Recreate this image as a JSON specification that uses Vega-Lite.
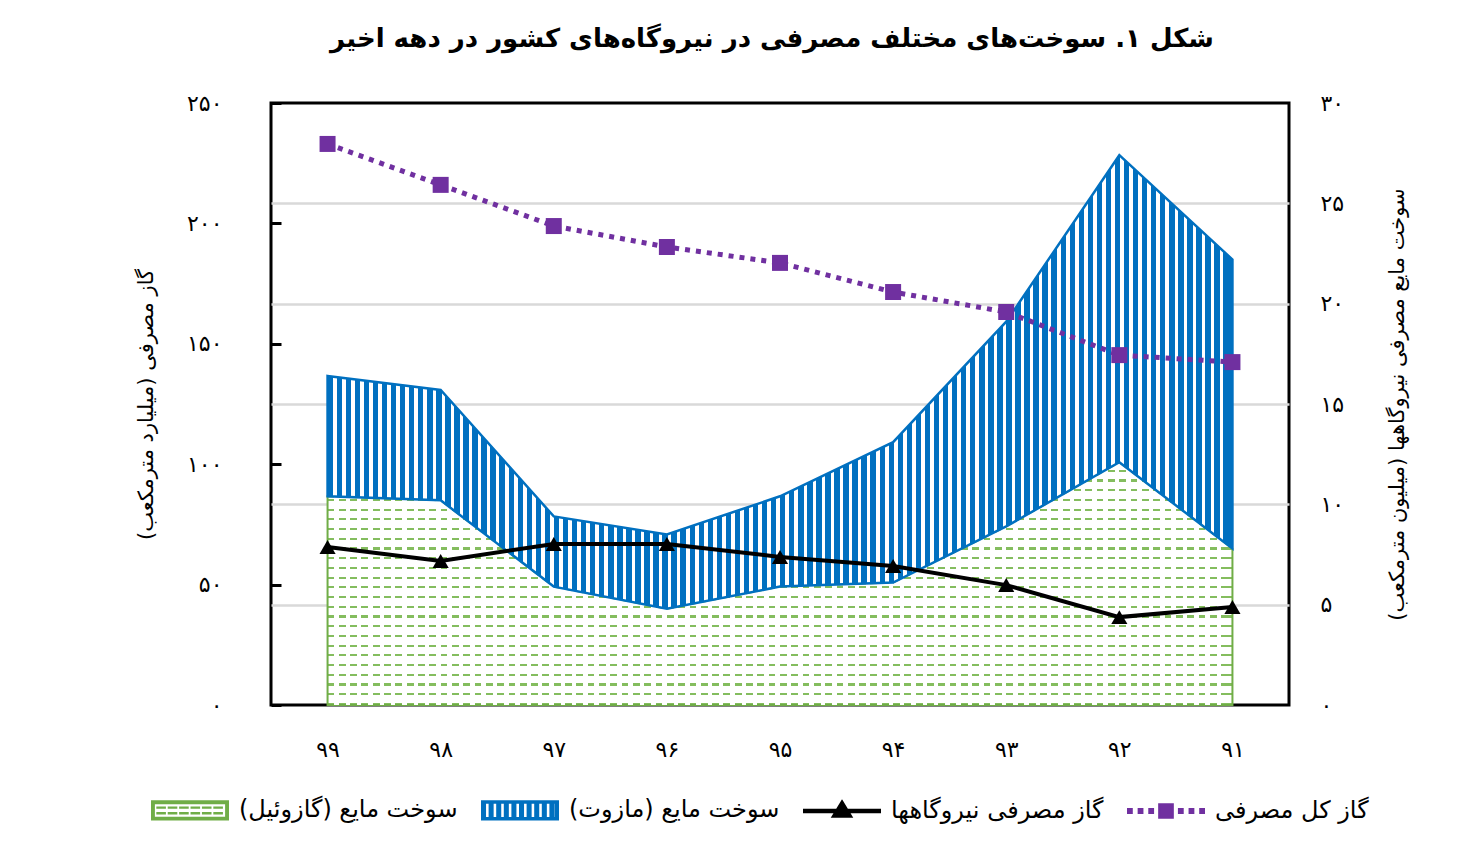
{
"$schema": "https://vega.github.io/schema/vega-lite/v6.json",
"width": 1018, "height": 602,
"autosize": {"type": "none"},
"padding": {"left": 271, "top": 103, "right": 174, "bottom": 163},
"background": "white",
"title": {"text": "‏شکل ۱. سوخت‌های مختلف مصرفی در نیروگاه‌های کشور در دهه اخیر‏", "font": "DejaVu Sans", "fontSize": 26, "fontWeight": "bold", "color": "black", "anchor": "middle", "offset": 40, "dx": -8},
"data": {"values": [
{"year":"۹۹","total_gas":233,"pp_gas":65.6,"gazoil":10.4,"mazut":6.0},
{"year":"۹۸","total_gas":216,"pp_gas":59.8,"gazoil":10.2,"mazut":5.5},
{"year":"۹۷","total_gas":198.9,"pp_gas":66.9,"gazoil":5.9,"mazut":3.5},
{"year":"۹۶","total_gas":190.2,"pp_gas":66.9,"gazoil":4.8,"mazut":3.7},
{"year":"۹۵","total_gas":183.6,"pp_gas":61.5,"gazoil":5.9,"mazut":4.5},
{"year":"۹۴","total_gas":171.5,"pp_gas":57.7,"gazoil":6.1,"mazut":7.0},
{"year":"۹۳","total_gas":163.2,"pp_gas":49.8,"gazoil":8.9,"mazut":10.2},
{"year":"۹۲","total_gas":145.3,"pp_gas":36.5,"gazoil":12.1,"mazut":15.3},
{"year":"۹۱","total_gas":142.4,"pp_gas":40.7,"gazoil":7.8,"mazut":14.4}
]},
"encoding": {"x": {"field": "year", "type": "ordinal", "sort": ["۹۹","۹۸","۹۷","۹۶","۹۵","۹۴","۹۳","۹۲","۹۱"], "scale": {"type": "point", "padding": 0.5}, "axis": {"title": null, "labelAngle": 0, "ticks": false, "domain": false, "grid": false, "labelPadding": 34, "labelFontSize": 22, "labelFont": "DejaVu Sans", "labelColor": "black"}}},
"layer": [
{"layer": [
{"mark": {"type": "area", "strokeWidth": 2, "fill": {"gradient": "linear", "x1": 0, "y1": 0, "x2": 0, "y2": 1, "stops": [
{"offset":0,"color":"#fff"},{"offset":0.031,"color":"#fff"},{"offset":0.031,"color":"#84bd5e"},{"offset":0.04,"color":"#84bd5e"},
{"offset":0.04,"color":"#fff"},{"offset":0.071,"color":"#fff"},{"offset":0.071,"color":"#84bd5e"},{"offset":0.08,"color":"#84bd5e"},
{"offset":0.08,"color":"#fff"},{"offset":0.111,"color":"#fff"},{"offset":0.111,"color":"#84bd5e"},{"offset":0.12,"color":"#84bd5e"},
{"offset":0.12,"color":"#fff"},{"offset":0.151,"color":"#fff"},{"offset":0.151,"color":"#84bd5e"},{"offset":0.16,"color":"#84bd5e"},
{"offset":0.16,"color":"#fff"},{"offset":0.191,"color":"#fff"},{"offset":0.191,"color":"#84bd5e"},{"offset":0.2,"color":"#84bd5e"},
{"offset":0.2,"color":"#fff"},{"offset":0.231,"color":"#fff"},{"offset":0.231,"color":"#84bd5e"},{"offset":0.24,"color":"#84bd5e"},
{"offset":0.24,"color":"#fff"},{"offset":0.271,"color":"#fff"},{"offset":0.271,"color":"#84bd5e"},{"offset":0.28,"color":"#84bd5e"},
{"offset":0.28,"color":"#fff"},{"offset":0.311,"color":"#fff"},{"offset":0.311,"color":"#84bd5e"},{"offset":0.32,"color":"#84bd5e"},
{"offset":0.32,"color":"#fff"},{"offset":0.351,"color":"#fff"},{"offset":0.351,"color":"#84bd5e"},{"offset":0.36,"color":"#84bd5e"},
{"offset":0.36,"color":"#fff"},{"offset":0.391,"color":"#fff"},{"offset":0.391,"color":"#84bd5e"},{"offset":0.4,"color":"#84bd5e"},
{"offset":0.4,"color":"#fff"},{"offset":0.431,"color":"#fff"},{"offset":0.431,"color":"#84bd5e"},{"offset":0.44,"color":"#84bd5e"},
{"offset":0.44,"color":"#fff"},{"offset":0.471,"color":"#fff"},{"offset":0.471,"color":"#84bd5e"},{"offset":0.48,"color":"#84bd5e"},
{"offset":0.48,"color":"#fff"},{"offset":0.511,"color":"#fff"},{"offset":0.511,"color":"#84bd5e"},{"offset":0.52,"color":"#84bd5e"},
{"offset":0.52,"color":"#fff"},{"offset":0.551,"color":"#fff"},{"offset":0.551,"color":"#84bd5e"},{"offset":0.56,"color":"#84bd5e"},
{"offset":0.56,"color":"#fff"},{"offset":0.591,"color":"#fff"},{"offset":0.591,"color":"#84bd5e"},{"offset":0.6,"color":"#84bd5e"},
{"offset":0.6,"color":"#fff"},{"offset":0.631,"color":"#fff"},{"offset":0.631,"color":"#84bd5e"},{"offset":0.64,"color":"#84bd5e"},
{"offset":0.64,"color":"#fff"},{"offset":0.671,"color":"#fff"},{"offset":0.671,"color":"#84bd5e"},{"offset":0.68,"color":"#84bd5e"},
{"offset":0.68,"color":"#fff"},{"offset":0.711,"color":"#fff"},{"offset":0.711,"color":"#84bd5e"},{"offset":0.72,"color":"#84bd5e"},
{"offset":0.72,"color":"#fff"},{"offset":0.751,"color":"#fff"},{"offset":0.751,"color":"#84bd5e"},{"offset":0.76,"color":"#84bd5e"},
{"offset":0.76,"color":"#fff"},{"offset":0.791,"color":"#fff"},{"offset":0.791,"color":"#84bd5e"},{"offset":0.8,"color":"#84bd5e"},
{"offset":0.8,"color":"#fff"},{"offset":0.831,"color":"#fff"},{"offset":0.831,"color":"#84bd5e"},{"offset":0.84,"color":"#84bd5e"},
{"offset":0.84,"color":"#fff"},{"offset":0.871,"color":"#fff"},{"offset":0.871,"color":"#84bd5e"},{"offset":0.88,"color":"#84bd5e"},
{"offset":0.88,"color":"#fff"},{"offset":0.911,"color":"#fff"},{"offset":0.911,"color":"#84bd5e"},{"offset":0.92,"color":"#84bd5e"},
{"offset":0.92,"color":"#fff"},{"offset":0.951,"color":"#fff"},{"offset":0.951,"color":"#84bd5e"},{"offset":0.96,"color":"#84bd5e"},
{"offset":0.96,"color":"#fff"},{"offset":0.991,"color":"#fff"},{"offset":0.991,"color":"#84bd5e"},{"offset":1,"color":"#84bd5e"}
]}},
"encoding": {
"y": {"field": "gazoil", "type": "quantitative", "stack": null, "scale": {"domain": [0, 30], "nice": false}, "axis": {"orient": "right", "values": [0,5,10,15,20,25,30], "grid": true, "gridOpacity": {"condition": {"test": "datum.value == 0 || datum.value == 30", "value": 0}, "value": 1}, "title": "‏سوخت مایع مصرفی نیروگاهها (میلیون مترمکعب)‏", "titleAngle": -90, "titleBaseline": "top", "labelExpr": "datum.value == 0 ? '۰' : datum.value == 5 ? '۵' : datum.value == 10 ? '۱۰' : datum.value == 15 ? '۱۵' : datum.value == 20 ? '۲۰' : datum.value == 25 ? '۲۵' : '۳۰'"}},
"stroke": {"datum": "سوخت مایع (گازوئیل)", "type": "nominal",
 "scale": {"domain": ["سوخت مایع (گازوئیل)", "سوخت مایع (مازوت)", "گاز مصرفی نیروگاهها", "گاز کل مصرفی"], "range": ["#70ad47", "#0070c0", "#000000", "#7030a0"]}}
}},
{"mark": {"type": "area", "strokeWidth": 0, "fill": {"gradient": "linear", "x1": 0, "y1": 0, "x2": 1, "y2": 0, "stops": [
{"offset":0,"color":"transparent"},{"offset":0.0075,"color":"transparent"},{"offset":0.0075,"color":"#fff"},{"offset":0.0125,"color":"#fff"},
{"offset":0.0125,"color":"transparent"},{"offset":0.02,"color":"transparent"},{"offset":0.02,"color":"#fff"},{"offset":0.025,"color":"#fff"},
{"offset":0.025,"color":"transparent"},{"offset":0.0325,"color":"transparent"},{"offset":0.0325,"color":"#fff"},{"offset":0.0375,"color":"#fff"},
{"offset":0.0375,"color":"transparent"},{"offset":0.045,"color":"transparent"},{"offset":0.045,"color":"#fff"},{"offset":0.05,"color":"#fff"},
{"offset":0.05,"color":"transparent"},{"offset":0.0575,"color":"transparent"},{"offset":0.0575,"color":"#fff"},{"offset":0.0625,"color":"#fff"},
{"offset":0.0625,"color":"transparent"},{"offset":0.07,"color":"transparent"},{"offset":0.07,"color":"#fff"},{"offset":0.075,"color":"#fff"},
{"offset":0.075,"color":"transparent"},{"offset":0.0825,"color":"transparent"},{"offset":0.0825,"color":"#fff"},{"offset":0.0875,"color":"#fff"},
{"offset":0.0875,"color":"transparent"},{"offset":0.095,"color":"transparent"},{"offset":0.095,"color":"#fff"},{"offset":0.1,"color":"#fff"},
{"offset":0.1,"color":"transparent"},{"offset":0.1075,"color":"transparent"},{"offset":0.1075,"color":"#fff"},{"offset":0.1125,"color":"#fff"},
{"offset":0.1125,"color":"transparent"},{"offset":0.12,"color":"transparent"},{"offset":0.12,"color":"#fff"},{"offset":0.125,"color":"#fff"},
{"offset":0.125,"color":"transparent"},{"offset":0.1325,"color":"transparent"},{"offset":0.1325,"color":"#fff"},{"offset":0.1375,"color":"#fff"},
{"offset":0.1375,"color":"transparent"},{"offset":0.145,"color":"transparent"},{"offset":0.145,"color":"#fff"},{"offset":0.15,"color":"#fff"},
{"offset":0.15,"color":"transparent"},{"offset":0.1575,"color":"transparent"},{"offset":0.1575,"color":"#fff"},{"offset":0.1625,"color":"#fff"},
{"offset":0.1625,"color":"transparent"},{"offset":0.17,"color":"transparent"},{"offset":0.17,"color":"#fff"},{"offset":0.175,"color":"#fff"},
{"offset":0.175,"color":"transparent"},{"offset":0.1825,"color":"transparent"},{"offset":0.1825,"color":"#fff"},{"offset":0.1875,"color":"#fff"},
{"offset":0.1875,"color":"transparent"},{"offset":0.195,"color":"transparent"},{"offset":0.195,"color":"#fff"},{"offset":0.2,"color":"#fff"},
{"offset":0.2,"color":"transparent"},{"offset":0.2075,"color":"transparent"},{"offset":0.2075,"color":"#fff"},{"offset":0.2125,"color":"#fff"},
{"offset":0.2125,"color":"transparent"},{"offset":0.22,"color":"transparent"},{"offset":0.22,"color":"#fff"},{"offset":0.225,"color":"#fff"},
{"offset":0.225,"color":"transparent"},{"offset":0.2325,"color":"transparent"},{"offset":0.2325,"color":"#fff"},{"offset":0.2375,"color":"#fff"},
{"offset":0.2375,"color":"transparent"},{"offset":0.245,"color":"transparent"},{"offset":0.245,"color":"#fff"},{"offset":0.25,"color":"#fff"},
{"offset":0.25,"color":"transparent"},{"offset":0.2575,"color":"transparent"},{"offset":0.2575,"color":"#fff"},{"offset":0.2625,"color":"#fff"},
{"offset":0.2625,"color":"transparent"},{"offset":0.27,"color":"transparent"},{"offset":0.27,"color":"#fff"},{"offset":0.275,"color":"#fff"},
{"offset":0.275,"color":"transparent"},{"offset":0.2825,"color":"transparent"},{"offset":0.2825,"color":"#fff"},{"offset":0.2875,"color":"#fff"},
{"offset":0.2875,"color":"transparent"},{"offset":0.295,"color":"transparent"},{"offset":0.295,"color":"#fff"},{"offset":0.3,"color":"#fff"},
{"offset":0.3,"color":"transparent"},{"offset":0.3075,"color":"transparent"},{"offset":0.3075,"color":"#fff"},{"offset":0.3125,"color":"#fff"},
{"offset":0.3125,"color":"transparent"},{"offset":0.32,"color":"transparent"},{"offset":0.32,"color":"#fff"},{"offset":0.325,"color":"#fff"},
{"offset":0.325,"color":"transparent"},{"offset":0.3325,"color":"transparent"},{"offset":0.3325,"color":"#fff"},{"offset":0.3375,"color":"#fff"},
{"offset":0.3375,"color":"transparent"},{"offset":0.345,"color":"transparent"},{"offset":0.345,"color":"#fff"},{"offset":0.35,"color":"#fff"},
{"offset":0.35,"color":"transparent"},{"offset":0.3575,"color":"transparent"},{"offset":0.3575,"color":"#fff"},{"offset":0.3625,"color":"#fff"},
{"offset":0.3625,"color":"transparent"},{"offset":0.37,"color":"transparent"},{"offset":0.37,"color":"#fff"},{"offset":0.375,"color":"#fff"},
{"offset":0.375,"color":"transparent"},{"offset":0.3825,"color":"transparent"},{"offset":0.3825,"color":"#fff"},{"offset":0.3875,"color":"#fff"},
{"offset":0.3875,"color":"transparent"},{"offset":0.395,"color":"transparent"},{"offset":0.395,"color":"#fff"},{"offset":0.4,"color":"#fff"},
{"offset":0.4,"color":"transparent"},{"offset":0.4075,"color":"transparent"},{"offset":0.4075,"color":"#fff"},{"offset":0.4125,"color":"#fff"},
{"offset":0.4125,"color":"transparent"},{"offset":0.42,"color":"transparent"},{"offset":0.42,"color":"#fff"},{"offset":0.425,"color":"#fff"},
{"offset":0.425,"color":"transparent"},{"offset":0.4325,"color":"transparent"},{"offset":0.4325,"color":"#fff"},{"offset":0.4375,"color":"#fff"},
{"offset":0.4375,"color":"transparent"},{"offset":0.445,"color":"transparent"},{"offset":0.445,"color":"#fff"},{"offset":0.45,"color":"#fff"},
{"offset":0.45,"color":"transparent"},{"offset":0.4575,"color":"transparent"},{"offset":0.4575,"color":"#fff"},{"offset":0.4625,"color":"#fff"},
{"offset":0.4625,"color":"transparent"},{"offset":0.47,"color":"transparent"},{"offset":0.47,"color":"#fff"},{"offset":0.475,"color":"#fff"},
{"offset":0.475,"color":"transparent"},{"offset":0.4825,"color":"transparent"},{"offset":0.4825,"color":"#fff"},{"offset":0.4875,"color":"#fff"},
{"offset":0.4875,"color":"transparent"},{"offset":0.495,"color":"transparent"},{"offset":0.495,"color":"#fff"},{"offset":0.5,"color":"#fff"},
{"offset":0.5,"color":"transparent"},{"offset":0.5075,"color":"transparent"},{"offset":0.5075,"color":"#fff"},{"offset":0.5125,"color":"#fff"},
{"offset":0.5125,"color":"transparent"},{"offset":0.52,"color":"transparent"},{"offset":0.52,"color":"#fff"},{"offset":0.525,"color":"#fff"},
{"offset":0.525,"color":"transparent"},{"offset":0.5325,"color":"transparent"},{"offset":0.5325,"color":"#fff"},{"offset":0.5375,"color":"#fff"},
{"offset":0.5375,"color":"transparent"},{"offset":0.545,"color":"transparent"},{"offset":0.545,"color":"#fff"},{"offset":0.55,"color":"#fff"},
{"offset":0.55,"color":"transparent"},{"offset":0.5575,"color":"transparent"},{"offset":0.5575,"color":"#fff"},{"offset":0.5625,"color":"#fff"},
{"offset":0.5625,"color":"transparent"},{"offset":0.57,"color":"transparent"},{"offset":0.57,"color":"#fff"},{"offset":0.575,"color":"#fff"},
{"offset":0.575,"color":"transparent"},{"offset":0.5825,"color":"transparent"},{"offset":0.5825,"color":"#fff"},{"offset":0.5875,"color":"#fff"},
{"offset":0.5875,"color":"transparent"},{"offset":0.595,"color":"transparent"},{"offset":0.595,"color":"#fff"},{"offset":0.6,"color":"#fff"},
{"offset":0.6,"color":"transparent"},{"offset":0.6075,"color":"transparent"},{"offset":0.6075,"color":"#fff"},{"offset":0.6125,"color":"#fff"},
{"offset":0.6125,"color":"transparent"},{"offset":0.62,"color":"transparent"},{"offset":0.62,"color":"#fff"},{"offset":0.625,"color":"#fff"},
{"offset":0.625,"color":"transparent"},{"offset":0.6325,"color":"transparent"},{"offset":0.6325,"color":"#fff"},{"offset":0.6375,"color":"#fff"},
{"offset":0.6375,"color":"transparent"},{"offset":0.645,"color":"transparent"},{"offset":0.645,"color":"#fff"},{"offset":0.65,"color":"#fff"},
{"offset":0.65,"color":"transparent"},{"offset":0.6575,"color":"transparent"},{"offset":0.6575,"color":"#fff"},{"offset":0.6625,"color":"#fff"},
{"offset":0.6625,"color":"transparent"},{"offset":0.67,"color":"transparent"},{"offset":0.67,"color":"#fff"},{"offset":0.675,"color":"#fff"},
{"offset":0.675,"color":"transparent"},{"offset":0.6825,"color":"transparent"},{"offset":0.6825,"color":"#fff"},{"offset":0.6875,"color":"#fff"},
{"offset":0.6875,"color":"transparent"},{"offset":0.695,"color":"transparent"},{"offset":0.695,"color":"#fff"},{"offset":0.7,"color":"#fff"},
{"offset":0.7,"color":"transparent"},{"offset":0.7075,"color":"transparent"},{"offset":0.7075,"color":"#fff"},{"offset":0.7125,"color":"#fff"},
{"offset":0.7125,"color":"transparent"},{"offset":0.72,"color":"transparent"},{"offset":0.72,"color":"#fff"},{"offset":0.725,"color":"#fff"},
{"offset":0.725,"color":"transparent"},{"offset":0.7325,"color":"transparent"},{"offset":0.7325,"color":"#fff"},{"offset":0.7375,"color":"#fff"},
{"offset":0.7375,"color":"transparent"},{"offset":0.745,"color":"transparent"},{"offset":0.745,"color":"#fff"},{"offset":0.75,"color":"#fff"},
{"offset":0.75,"color":"transparent"},{"offset":0.7575,"color":"transparent"},{"offset":0.7575,"color":"#fff"},{"offset":0.7625,"color":"#fff"},
{"offset":0.7625,"color":"transparent"},{"offset":0.77,"color":"transparent"},{"offset":0.77,"color":"#fff"},{"offset":0.775,"color":"#fff"},
{"offset":0.775,"color":"transparent"},{"offset":0.7825,"color":"transparent"},{"offset":0.7825,"color":"#fff"},{"offset":0.7875,"color":"#fff"},
{"offset":0.7875,"color":"transparent"},{"offset":0.795,"color":"transparent"},{"offset":0.795,"color":"#fff"},{"offset":0.8,"color":"#fff"},
{"offset":0.8,"color":"transparent"},{"offset":0.8075,"color":"transparent"},{"offset":0.8075,"color":"#fff"},{"offset":0.8125,"color":"#fff"},
{"offset":0.8125,"color":"transparent"},{"offset":0.82,"color":"transparent"},{"offset":0.82,"color":"#fff"},{"offset":0.825,"color":"#fff"},
{"offset":0.825,"color":"transparent"},{"offset":0.8325,"color":"transparent"},{"offset":0.8325,"color":"#fff"},{"offset":0.8375,"color":"#fff"},
{"offset":0.8375,"color":"transparent"},{"offset":0.845,"color":"transparent"},{"offset":0.845,"color":"#fff"},{"offset":0.85,"color":"#fff"},
{"offset":0.85,"color":"transparent"},{"offset":0.8575,"color":"transparent"},{"offset":0.8575,"color":"#fff"},{"offset":0.8625,"color":"#fff"},
{"offset":0.8625,"color":"transparent"},{"offset":0.87,"color":"transparent"},{"offset":0.87,"color":"#fff"},{"offset":0.875,"color":"#fff"},
{"offset":0.875,"color":"transparent"},{"offset":0.8825,"color":"transparent"},{"offset":0.8825,"color":"#fff"},{"offset":0.8875,"color":"#fff"},
{"offset":0.8875,"color":"transparent"},{"offset":0.895,"color":"transparent"},{"offset":0.895,"color":"#fff"},{"offset":0.9,"color":"#fff"},
{"offset":0.9,"color":"transparent"},{"offset":0.9075,"color":"transparent"},{"offset":0.9075,"color":"#fff"},{"offset":0.9125,"color":"#fff"},
{"offset":0.9125,"color":"transparent"},{"offset":0.92,"color":"transparent"},{"offset":0.92,"color":"#fff"},{"offset":0.925,"color":"#fff"},
{"offset":0.925,"color":"transparent"},{"offset":0.9325,"color":"transparent"},{"offset":0.9325,"color":"#fff"},{"offset":0.9375,"color":"#fff"},
{"offset":0.9375,"color":"transparent"},{"offset":0.945,"color":"transparent"},{"offset":0.945,"color":"#fff"},{"offset":0.95,"color":"#fff"},
{"offset":0.95,"color":"transparent"},{"offset":0.9575,"color":"transparent"},{"offset":0.9575,"color":"#fff"},{"offset":0.9625,"color":"#fff"},
{"offset":0.9625,"color":"transparent"},{"offset":0.97,"color":"transparent"},{"offset":0.97,"color":"#fff"},{"offset":0.975,"color":"#fff"},
{"offset":0.975,"color":"transparent"},{"offset":0.9825,"color":"transparent"},{"offset":0.9825,"color":"#fff"},{"offset":0.9875,"color":"#fff"},
{"offset":0.9875,"color":"transparent"},{"offset":1,"color":"transparent"}
]}},
"encoding": {
"y": {"field": "gazoil", "type": "quantitative", "stack": null, "scale": {"domain": [0, 30], "nice": false}, "axis": {"orient": "right", "values": [0,5,10,15,20,25,30], "grid": true, "gridOpacity": {"condition": {"test": "datum.value == 0 || datum.value == 30", "value": 0}, "value": 1}, "title": "‏سوخت مایع مصرفی نیروگاهها (میلیون مترمکعب)‏", "titleAngle": -90, "titleBaseline": "top", "labelExpr": "datum.value == 0 ? '۰' : datum.value == 5 ? '۵' : datum.value == 10 ? '۱۰' : datum.value == 15 ? '۱۵' : datum.value == 20 ? '۲۰' : datum.value == 25 ? '۲۵' : '۳۰'"}}
}},
{"transform": [
 {"fold": ["gazoil", "mazut"], "as": ["fuel", "amount"]},
 {"stack": "amount", "groupby": ["year"], "sort": [{"field": "fuel", "order": "ascending"}], "as": ["lo", "hi"]},
 {"filter": "datum.fuel == 'mazut'"}
],
"mark": {"type": "area", "strokeWidth": 2.5, "fill": {"gradient": "linear", "x1": 0, "y1": 0, "x2": 1, "y2": 0, "stops": [
{"offset":0,"color":"#0070c0"},{"offset":0.006,"color":"#0070c0"},{"offset":0.006,"color":"#fff"},{"offset":0.01,"color":"#fff"},
{"offset":0.01,"color":"#0070c0"},{"offset":0.016,"color":"#0070c0"},{"offset":0.016,"color":"#fff"},{"offset":0.02,"color":"#fff"},
{"offset":0.02,"color":"#0070c0"},{"offset":0.026,"color":"#0070c0"},{"offset":0.026,"color":"#fff"},{"offset":0.03,"color":"#fff"},
{"offset":0.03,"color":"#0070c0"},{"offset":0.036,"color":"#0070c0"},{"offset":0.036,"color":"#fff"},{"offset":0.04,"color":"#fff"},
{"offset":0.04,"color":"#0070c0"},{"offset":0.046,"color":"#0070c0"},{"offset":0.046,"color":"#fff"},{"offset":0.05,"color":"#fff"},
{"offset":0.05,"color":"#0070c0"},{"offset":0.056,"color":"#0070c0"},{"offset":0.056,"color":"#fff"},{"offset":0.06,"color":"#fff"},
{"offset":0.06,"color":"#0070c0"},{"offset":0.066,"color":"#0070c0"},{"offset":0.066,"color":"#fff"},{"offset":0.07,"color":"#fff"},
{"offset":0.07,"color":"#0070c0"},{"offset":0.076,"color":"#0070c0"},{"offset":0.076,"color":"#fff"},{"offset":0.08,"color":"#fff"},
{"offset":0.08,"color":"#0070c0"},{"offset":0.086,"color":"#0070c0"},{"offset":0.086,"color":"#fff"},{"offset":0.09,"color":"#fff"},
{"offset":0.09,"color":"#0070c0"},{"offset":0.096,"color":"#0070c0"},{"offset":0.096,"color":"#fff"},{"offset":0.1,"color":"#fff"},
{"offset":0.1,"color":"#0070c0"},{"offset":0.106,"color":"#0070c0"},{"offset":0.106,"color":"#fff"},{"offset":0.11,"color":"#fff"},
{"offset":0.11,"color":"#0070c0"},{"offset":0.116,"color":"#0070c0"},{"offset":0.116,"color":"#fff"},{"offset":0.12,"color":"#fff"},
{"offset":0.12,"color":"#0070c0"},{"offset":0.126,"color":"#0070c0"},{"offset":0.126,"color":"#fff"},{"offset":0.13,"color":"#fff"},
{"offset":0.13,"color":"#0070c0"},{"offset":0.136,"color":"#0070c0"},{"offset":0.136,"color":"#fff"},{"offset":0.14,"color":"#fff"},
{"offset":0.14,"color":"#0070c0"},{"offset":0.146,"color":"#0070c0"},{"offset":0.146,"color":"#fff"},{"offset":0.15,"color":"#fff"},
{"offset":0.15,"color":"#0070c0"},{"offset":0.156,"color":"#0070c0"},{"offset":0.156,"color":"#fff"},{"offset":0.16,"color":"#fff"},
{"offset":0.16,"color":"#0070c0"},{"offset":0.166,"color":"#0070c0"},{"offset":0.166,"color":"#fff"},{"offset":0.17,"color":"#fff"},
{"offset":0.17,"color":"#0070c0"},{"offset":0.176,"color":"#0070c0"},{"offset":0.176,"color":"#fff"},{"offset":0.18,"color":"#fff"},
{"offset":0.18,"color":"#0070c0"},{"offset":0.186,"color":"#0070c0"},{"offset":0.186,"color":"#fff"},{"offset":0.19,"color":"#fff"},
{"offset":0.19,"color":"#0070c0"},{"offset":0.196,"color":"#0070c0"},{"offset":0.196,"color":"#fff"},{"offset":0.2,"color":"#fff"},
{"offset":0.2,"color":"#0070c0"},{"offset":0.206,"color":"#0070c0"},{"offset":0.206,"color":"#fff"},{"offset":0.21,"color":"#fff"},
{"offset":0.21,"color":"#0070c0"},{"offset":0.216,"color":"#0070c0"},{"offset":0.216,"color":"#fff"},{"offset":0.22,"color":"#fff"},
{"offset":0.22,"color":"#0070c0"},{"offset":0.226,"color":"#0070c0"},{"offset":0.226,"color":"#fff"},{"offset":0.23,"color":"#fff"},
{"offset":0.23,"color":"#0070c0"},{"offset":0.236,"color":"#0070c0"},{"offset":0.236,"color":"#fff"},{"offset":0.24,"color":"#fff"},
{"offset":0.24,"color":"#0070c0"},{"offset":0.246,"color":"#0070c0"},{"offset":0.246,"color":"#fff"},{"offset":0.25,"color":"#fff"},
{"offset":0.25,"color":"#0070c0"},{"offset":0.256,"color":"#0070c0"},{"offset":0.256,"color":"#fff"},{"offset":0.26,"color":"#fff"},
{"offset":0.26,"color":"#0070c0"},{"offset":0.266,"color":"#0070c0"},{"offset":0.266,"color":"#fff"},{"offset":0.27,"color":"#fff"},
{"offset":0.27,"color":"#0070c0"},{"offset":0.276,"color":"#0070c0"},{"offset":0.276,"color":"#fff"},{"offset":0.28,"color":"#fff"},
{"offset":0.28,"color":"#0070c0"},{"offset":0.286,"color":"#0070c0"},{"offset":0.286,"color":"#fff"},{"offset":0.29,"color":"#fff"},
{"offset":0.29,"color":"#0070c0"},{"offset":0.296,"color":"#0070c0"},{"offset":0.296,"color":"#fff"},{"offset":0.3,"color":"#fff"},
{"offset":0.3,"color":"#0070c0"},{"offset":0.306,"color":"#0070c0"},{"offset":0.306,"color":"#fff"},{"offset":0.31,"color":"#fff"},
{"offset":0.31,"color":"#0070c0"},{"offset":0.316,"color":"#0070c0"},{"offset":0.316,"color":"#fff"},{"offset":0.32,"color":"#fff"},
{"offset":0.32,"color":"#0070c0"},{"offset":0.326,"color":"#0070c0"},{"offset":0.326,"color":"#fff"},{"offset":0.33,"color":"#fff"},
{"offset":0.33,"color":"#0070c0"},{"offset":0.336,"color":"#0070c0"},{"offset":0.336,"color":"#fff"},{"offset":0.34,"color":"#fff"},
{"offset":0.34,"color":"#0070c0"},{"offset":0.346,"color":"#0070c0"},{"offset":0.346,"color":"#fff"},{"offset":0.35,"color":"#fff"},
{"offset":0.35,"color":"#0070c0"},{"offset":0.356,"color":"#0070c0"},{"offset":0.356,"color":"#fff"},{"offset":0.36,"color":"#fff"},
{"offset":0.36,"color":"#0070c0"},{"offset":0.366,"color":"#0070c0"},{"offset":0.366,"color":"#fff"},{"offset":0.37,"color":"#fff"},
{"offset":0.37,"color":"#0070c0"},{"offset":0.376,"color":"#0070c0"},{"offset":0.376,"color":"#fff"},{"offset":0.38,"color":"#fff"},
{"offset":0.38,"color":"#0070c0"},{"offset":0.386,"color":"#0070c0"},{"offset":0.386,"color":"#fff"},{"offset":0.39,"color":"#fff"},
{"offset":0.39,"color":"#0070c0"},{"offset":0.396,"color":"#0070c0"},{"offset":0.396,"color":"#fff"},{"offset":0.4,"color":"#fff"},
{"offset":0.4,"color":"#0070c0"},{"offset":0.406,"color":"#0070c0"},{"offset":0.406,"color":"#fff"},{"offset":0.41,"color":"#fff"},
{"offset":0.41,"color":"#0070c0"},{"offset":0.416,"color":"#0070c0"},{"offset":0.416,"color":"#fff"},{"offset":0.42,"color":"#fff"},
{"offset":0.42,"color":"#0070c0"},{"offset":0.426,"color":"#0070c0"},{"offset":0.426,"color":"#fff"},{"offset":0.43,"color":"#fff"},
{"offset":0.43,"color":"#0070c0"},{"offset":0.436,"color":"#0070c0"},{"offset":0.436,"color":"#fff"},{"offset":0.44,"color":"#fff"},
{"offset":0.44,"color":"#0070c0"},{"offset":0.446,"color":"#0070c0"},{"offset":0.446,"color":"#fff"},{"offset":0.45,"color":"#fff"},
{"offset":0.45,"color":"#0070c0"},{"offset":0.456,"color":"#0070c0"},{"offset":0.456,"color":"#fff"},{"offset":0.46,"color":"#fff"},
{"offset":0.46,"color":"#0070c0"},{"offset":0.466,"color":"#0070c0"},{"offset":0.466,"color":"#fff"},{"offset":0.47,"color":"#fff"},
{"offset":0.47,"color":"#0070c0"},{"offset":0.476,"color":"#0070c0"},{"offset":0.476,"color":"#fff"},{"offset":0.48,"color":"#fff"},
{"offset":0.48,"color":"#0070c0"},{"offset":0.486,"color":"#0070c0"},{"offset":0.486,"color":"#fff"},{"offset":0.49,"color":"#fff"},
{"offset":0.49,"color":"#0070c0"},{"offset":0.496,"color":"#0070c0"},{"offset":0.496,"color":"#fff"},{"offset":0.5,"color":"#fff"},
{"offset":0.5,"color":"#0070c0"},{"offset":0.506,"color":"#0070c0"},{"offset":0.506,"color":"#fff"},{"offset":0.51,"color":"#fff"},
{"offset":0.51,"color":"#0070c0"},{"offset":0.516,"color":"#0070c0"},{"offset":0.516,"color":"#fff"},{"offset":0.52,"color":"#fff"},
{"offset":0.52,"color":"#0070c0"},{"offset":0.526,"color":"#0070c0"},{"offset":0.526,"color":"#fff"},{"offset":0.53,"color":"#fff"},
{"offset":0.53,"color":"#0070c0"},{"offset":0.536,"color":"#0070c0"},{"offset":0.536,"color":"#fff"},{"offset":0.54,"color":"#fff"},
{"offset":0.54,"color":"#0070c0"},{"offset":0.546,"color":"#0070c0"},{"offset":0.546,"color":"#fff"},{"offset":0.55,"color":"#fff"},
{"offset":0.55,"color":"#0070c0"},{"offset":0.556,"color":"#0070c0"},{"offset":0.556,"color":"#fff"},{"offset":0.56,"color":"#fff"},
{"offset":0.56,"color":"#0070c0"},{"offset":0.566,"color":"#0070c0"},{"offset":0.566,"color":"#fff"},{"offset":0.57,"color":"#fff"},
{"offset":0.57,"color":"#0070c0"},{"offset":0.576,"color":"#0070c0"},{"offset":0.576,"color":"#fff"},{"offset":0.58,"color":"#fff"},
{"offset":0.58,"color":"#0070c0"},{"offset":0.586,"color":"#0070c0"},{"offset":0.586,"color":"#fff"},{"offset":0.59,"color":"#fff"},
{"offset":0.59,"color":"#0070c0"},{"offset":0.596,"color":"#0070c0"},{"offset":0.596,"color":"#fff"},{"offset":0.6,"color":"#fff"},
{"offset":0.6,"color":"#0070c0"},{"offset":0.606,"color":"#0070c0"},{"offset":0.606,"color":"#fff"},{"offset":0.61,"color":"#fff"},
{"offset":0.61,"color":"#0070c0"},{"offset":0.616,"color":"#0070c0"},{"offset":0.616,"color":"#fff"},{"offset":0.62,"color":"#fff"},
{"offset":0.62,"color":"#0070c0"},{"offset":0.626,"color":"#0070c0"},{"offset":0.626,"color":"#fff"},{"offset":0.63,"color":"#fff"},
{"offset":0.63,"color":"#0070c0"},{"offset":0.636,"color":"#0070c0"},{"offset":0.636,"color":"#fff"},{"offset":0.64,"color":"#fff"},
{"offset":0.64,"color":"#0070c0"},{"offset":0.646,"color":"#0070c0"},{"offset":0.646,"color":"#fff"},{"offset":0.65,"color":"#fff"},
{"offset":0.65,"color":"#0070c0"},{"offset":0.656,"color":"#0070c0"},{"offset":0.656,"color":"#fff"},{"offset":0.66,"color":"#fff"},
{"offset":0.66,"color":"#0070c0"},{"offset":0.666,"color":"#0070c0"},{"offset":0.666,"color":"#fff"},{"offset":0.67,"color":"#fff"},
{"offset":0.67,"color":"#0070c0"},{"offset":0.676,"color":"#0070c0"},{"offset":0.676,"color":"#fff"},{"offset":0.68,"color":"#fff"},
{"offset":0.68,"color":"#0070c0"},{"offset":0.686,"color":"#0070c0"},{"offset":0.686,"color":"#fff"},{"offset":0.69,"color":"#fff"},
{"offset":0.69,"color":"#0070c0"},{"offset":0.696,"color":"#0070c0"},{"offset":0.696,"color":"#fff"},{"offset":0.7,"color":"#fff"},
{"offset":0.7,"color":"#0070c0"},{"offset":0.706,"color":"#0070c0"},{"offset":0.706,"color":"#fff"},{"offset":0.71,"color":"#fff"},
{"offset":0.71,"color":"#0070c0"},{"offset":0.716,"color":"#0070c0"},{"offset":0.716,"color":"#fff"},{"offset":0.72,"color":"#fff"},
{"offset":0.72,"color":"#0070c0"},{"offset":0.726,"color":"#0070c0"},{"offset":0.726,"color":"#fff"},{"offset":0.73,"color":"#fff"},
{"offset":0.73,"color":"#0070c0"},{"offset":0.736,"color":"#0070c0"},{"offset":0.736,"color":"#fff"},{"offset":0.74,"color":"#fff"},
{"offset":0.74,"color":"#0070c0"},{"offset":0.746,"color":"#0070c0"},{"offset":0.746,"color":"#fff"},{"offset":0.75,"color":"#fff"},
{"offset":0.75,"color":"#0070c0"},{"offset":0.756,"color":"#0070c0"},{"offset":0.756,"color":"#fff"},{"offset":0.76,"color":"#fff"},
{"offset":0.76,"color":"#0070c0"},{"offset":0.766,"color":"#0070c0"},{"offset":0.766,"color":"#fff"},{"offset":0.77,"color":"#fff"},
{"offset":0.77,"color":"#0070c0"},{"offset":0.776,"color":"#0070c0"},{"offset":0.776,"color":"#fff"},{"offset":0.78,"color":"#fff"},
{"offset":0.78,"color":"#0070c0"},{"offset":0.786,"color":"#0070c0"},{"offset":0.786,"color":"#fff"},{"offset":0.79,"color":"#fff"},
{"offset":0.79,"color":"#0070c0"},{"offset":0.796,"color":"#0070c0"},{"offset":0.796,"color":"#fff"},{"offset":0.8,"color":"#fff"},
{"offset":0.8,"color":"#0070c0"},{"offset":0.806,"color":"#0070c0"},{"offset":0.806,"color":"#fff"},{"offset":0.81,"color":"#fff"},
{"offset":0.81,"color":"#0070c0"},{"offset":0.816,"color":"#0070c0"},{"offset":0.816,"color":"#fff"},{"offset":0.82,"color":"#fff"},
{"offset":0.82,"color":"#0070c0"},{"offset":0.826,"color":"#0070c0"},{"offset":0.826,"color":"#fff"},{"offset":0.83,"color":"#fff"},
{"offset":0.83,"color":"#0070c0"},{"offset":0.836,"color":"#0070c0"},{"offset":0.836,"color":"#fff"},{"offset":0.84,"color":"#fff"},
{"offset":0.84,"color":"#0070c0"},{"offset":0.846,"color":"#0070c0"},{"offset":0.846,"color":"#fff"},{"offset":0.85,"color":"#fff"},
{"offset":0.85,"color":"#0070c0"},{"offset":0.856,"color":"#0070c0"},{"offset":0.856,"color":"#fff"},{"offset":0.86,"color":"#fff"},
{"offset":0.86,"color":"#0070c0"},{"offset":0.866,"color":"#0070c0"},{"offset":0.866,"color":"#fff"},{"offset":0.87,"color":"#fff"},
{"offset":0.87,"color":"#0070c0"},{"offset":0.876,"color":"#0070c0"},{"offset":0.876,"color":"#fff"},{"offset":0.88,"color":"#fff"},
{"offset":0.88,"color":"#0070c0"},{"offset":0.886,"color":"#0070c0"},{"offset":0.886,"color":"#fff"},{"offset":0.89,"color":"#fff"},
{"offset":0.89,"color":"#0070c0"},{"offset":0.896,"color":"#0070c0"},{"offset":0.896,"color":"#fff"},{"offset":0.9,"color":"#fff"},
{"offset":0.9,"color":"#0070c0"},{"offset":0.906,"color":"#0070c0"},{"offset":0.906,"color":"#fff"},{"offset":0.91,"color":"#fff"},
{"offset":0.91,"color":"#0070c0"},{"offset":0.916,"color":"#0070c0"},{"offset":0.916,"color":"#fff"},{"offset":0.92,"color":"#fff"},
{"offset":0.92,"color":"#0070c0"},{"offset":0.926,"color":"#0070c0"},{"offset":0.926,"color":"#fff"},{"offset":0.93,"color":"#fff"},
{"offset":0.93,"color":"#0070c0"},{"offset":0.936,"color":"#0070c0"},{"offset":0.936,"color":"#fff"},{"offset":0.94,"color":"#fff"},
{"offset":0.94,"color":"#0070c0"},{"offset":0.946,"color":"#0070c0"},{"offset":0.946,"color":"#fff"},{"offset":0.95,"color":"#fff"},
{"offset":0.95,"color":"#0070c0"},{"offset":0.956,"color":"#0070c0"},{"offset":0.956,"color":"#fff"},{"offset":0.96,"color":"#fff"},
{"offset":0.96,"color":"#0070c0"},{"offset":0.966,"color":"#0070c0"},{"offset":0.966,"color":"#fff"},{"offset":0.97,"color":"#fff"},
{"offset":0.97,"color":"#0070c0"},{"offset":0.976,"color":"#0070c0"},{"offset":0.976,"color":"#fff"},{"offset":0.98,"color":"#fff"},
{"offset":0.98,"color":"#0070c0"},{"offset":0.986,"color":"#0070c0"},{"offset":0.986,"color":"#fff"},{"offset":0.99,"color":"#fff"},
{"offset":0.99,"color":"#0070c0"},{"offset":1,"color":"#0070c0"}
]}},
"encoding": {
"y": {"field": "hi", "type": "quantitative", "scale": {"domain": [0, 30], "nice": false}, "axis": {"orient": "right", "values": [0,5,10,15,20,25,30], "grid": true, "gridOpacity": {"condition": {"test": "datum.value == 0 || datum.value == 30", "value": 0}, "value": 1}, "title": "‏سوخت مایع مصرفی نیروگاهها (میلیون مترمکعب)‏", "titleAngle": -90, "titleBaseline": "top", "labelExpr": "datum.value == 0 ? '۰' : datum.value == 5 ? '۵' : datum.value == 10 ? '۱۰' : datum.value == 15 ? '۱۵' : datum.value == 20 ? '۲۰' : datum.value == 25 ? '۲۵' : '۳۰'"}},
"y2": {"field": "lo"},
"stroke": {"datum": "سوخت مایع (مازوت)", "type": "nominal"}
}}
]},
{"layer": [
{"mark": {"type": "line", "strokeWidth": 4},
 "encoding": {
 "y": {"field": "pp_gas", "type": "quantitative", "scale": {"domain": [0, 250], "nice": false}, "axis": {"orient": "left", "values": [0,50,100,150,200,250], "grid": false, "title": "‏گاز مصرفی (میلیارد مترمکعب)‏", "titleAngle": -90, "titleBaseline": "bottom", "labelExpr": "datum.value == 0 ? '۰' : datum.value == 50 ? '۵۰' : datum.value == 100 ? '۱۰۰' : datum.value == 150 ? '۱۵۰' : datum.value == 200 ? '۲۰۰' : '۲۵۰'"}},
 "stroke": {"datum": "گاز مصرفی نیروگاهها", "type": "nominal"}}},
{"mark": {"type": "point", "shape": "triangle-up", "filled": true, "fill": "#000000", "size": 260, "opacity": 1, "strokeWidth": 0},
 "encoding": {
 "y": {"field": "pp_gas", "type": "quantitative", "scale": {"domain": [0, 250], "nice": false}, "axis": {"orient": "left", "values": [0,50,100,150,200,250], "grid": false, "title": "‏گاز مصرفی (میلیارد مترمکعب)‏", "titleAngle": -90, "titleBaseline": "bottom", "labelExpr": "datum.value == 0 ? '۰' : datum.value == 50 ? '۵۰' : datum.value == 100 ? '۱۰۰' : datum.value == 150 ? '۱۵۰' : datum.value == 200 ? '۲۰۰' : '۲۵۰'"}}}},
{"mark": {"type": "line", "strokeWidth": 5, "strokeDash": [5, 6]},
 "encoding": {
 "y": {"field": "total_gas", "type": "quantitative", "scale": {"domain": [0, 250], "nice": false}, "axis": {"orient": "left", "values": [0,50,100,150,200,250], "grid": false, "title": "‏گاز مصرفی (میلیارد مترمکعب)‏", "titleAngle": -90, "titleBaseline": "bottom", "labelExpr": "datum.value == 0 ? '۰' : datum.value == 50 ? '۵۰' : datum.value == 100 ? '۱۰۰' : datum.value == 150 ? '۱۵۰' : datum.value == 200 ? '۲۰۰' : '۲۵۰'"}},
 "stroke": {"datum": "گاز کل مصرفی", "type": "nominal"}}},
{"mark": {"type": "point", "shape": "square", "filled": true, "fill": "#7030a0", "size": 256, "opacity": 1, "strokeWidth": 0},
 "encoding": {
 "y": {"field": "total_gas", "type": "quantitative", "scale": {"domain": [0, 250], "nice": false}, "axis": {"orient": "left", "values": [0,50,100,150,200,250], "grid": false, "title": "‏گاز مصرفی (میلیارد مترمکعب)‏", "titleAngle": -90, "titleBaseline": "bottom", "labelExpr": "datum.value == 0 ? '۰' : datum.value == 50 ? '۵۰' : datum.value == 100 ? '۱۰۰' : datum.value == 150 ? '۱۵۰' : datum.value == 200 ? '۲۰۰' : '۲۵۰'"}}}},
{"mark": {"type": "point", "filled": true, "opacity": 0},
 "encoding": {
 "y": {"field": "total_gas", "type": "quantitative", "scale": {"domain": [0, 250], "nice": false}, "axis": {"orient": "left", "values": [0,50,100,150,200,250], "grid": false, "title": "‏گاز مصرفی (میلیارد مترمکعب)‏", "titleAngle": -90, "titleBaseline": "bottom", "labelExpr": "datum.value == 0 ? '۰' : datum.value == 50 ? '۵۰' : datum.value == 100 ? '۱۰۰' : datum.value == 150 ? '۱۵۰' : datum.value == 200 ? '۲۰۰' : '۲۵۰'"}},
 "shape": {"datum": "گاز کل مصرفی", "type": "nominal",
  "scale": {"domain": ["سوخت مایع (گازوئیل)", "سوخت مایع (مازوت)", "گاز مصرفی نیروگاهها", "گاز کل مصرفی"],
   "range": [
    "M-1,-0.24H1V0.24H-1Z M-0.95,-0.19V0.19H0.95V-0.19Z M-0.86,-0.08h0.2v0.01h-0.2Z M-0.56,-0.08h0.2v0.01h-0.2Z M-0.26,-0.08h0.2v0.01h-0.2Z M0.04,-0.08h0.2v0.01h-0.2Z M0.34,-0.08h0.2v0.01h-0.2Z M0.64,-0.08h0.2v0.01h-0.2Z M-0.86,0.07h0.2v0.01h-0.2Z M-0.56,0.07h0.2v0.01h-0.2Z M-0.26,0.07h0.2v0.01h-0.2Z M0.04,0.07h0.2v0.01h-0.2Z M0.34,0.07h0.2v0.01h-0.2Z M0.64,0.07h0.2v0.01h-0.2Z",
    "M-1,-0.24H1V-0.2H-1Z M-1,0.2H1V0.24H-1Z M-1,-0.24h0.08v0.48h-0.08Z M-0.8,-0.24h0.08v0.48h-0.08Z M-0.6,-0.24h0.08v0.48h-0.08Z M-0.4,-0.24h0.08v0.48h-0.08Z M-0.2,-0.24h0.08v0.48h-0.08Z M0,-0.24h0.08v0.48h-0.08Z M0.2,-0.24h0.08v0.48h-0.08Z M0.4,-0.24h0.08v0.48h-0.08Z M0.6,-0.24h0.08v0.48h-0.08Z M0.8,-0.24h0.08v0.48h-0.08Z M0.94,-0.24h0.06v0.48h-0.06Z",
    "M-1,-0.03H1V0.03H-1Z M0,-0.26L0.25,0.15H-0.25Z",
    "M-1,-0.05h0.1v0.1h-0.1Z M-0.72,-0.05h0.1v0.1h-0.1Z M-0.44,-0.05h0.1v0.1h-0.1Z M-0.18,-0.18h0.36v0.36h-0.36Z M0.34,-0.05h0.1v0.1h-0.1Z M0.62,-0.05h0.1v0.1h-0.1Z M0.9,-0.05h0.1v0.1h-0.1Z"]},
  "legend": {"orient": "none", "legendX": -120, "legendY": 668, "direction": "horizontal", "title": null, "labelFont": "DejaVu Sans", "labelFontSize": 24, "labelColor": "black", "labelLimit": 500, "symbolSize": 5776, "symbolStrokeWidth": 2, "symbolOpacity": 1, "columnPadding": 20, "labelOffset": 10, "padding": 0,
   "labelExpr": "'‏' + datum.label + '‏'"}},
 "fill": {"datum": "گاز کل مصرفی", "type": "nominal",
  "scale": {"domain": ["سوخت مایع (گازوئیل)", "سوخت مایع (مازوت)", "گاز مصرفی نیروگاهها", "گاز کل مصرفی"], "range": ["#70ad47", "#0070c0", "#000000", "#7030a0"]}}
 }}
]}
],
"resolve": {"scale": {"y": "independent"}},
"config": {
 "view": {"stroke": "#000000", "strokeWidth": 3},
 "font": "DejaVu Sans",
 "legend": {"symbolOpacity": 1},
 "axisLeft": {"tickSize": -10, "tickWidth": 3, "tickColor": "#000000", "domain": false, "labelPadding": 59, "labelFontSize": 22, "labelFont": "DejaVu Sans", "labelColor": "#000000", "titleFont": "DejaVu Sans", "titleFontSize": 21, "titleFontWeight": "normal", "titleColor": "#000000", "titlePadding": 30},
 "axisRight": {"ticks": false, "domain": false, "gridColor": "#d9d9d9", "gridWidth": 2.5, "labelPadding": 31, "labelFontSize": 22, "labelFont": "DejaVu Sans", "labelColor": "#000000", "titleFont": "DejaVu Sans", "titleFontSize": 21, "titleFontWeight": "normal", "titleColor": "#000000", "titlePadding": 43}
}
}
